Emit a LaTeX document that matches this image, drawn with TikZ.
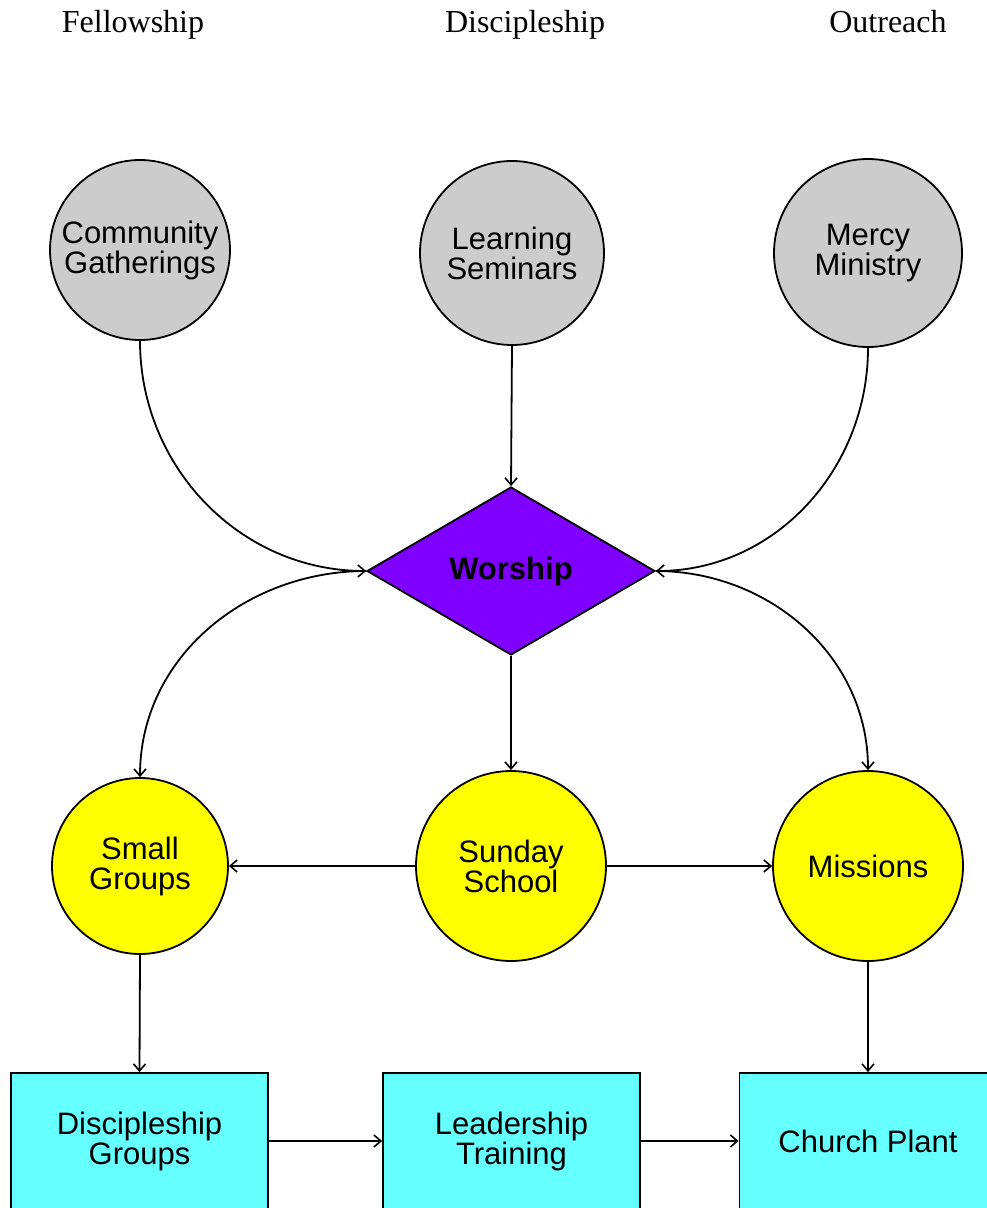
\documentclass[tikz,border=0pt]{standalone}
\usepackage{fontspec}
\setmainfont{Liberation Serif}
\setsansfont{Liberation Sans}
\usetikzlibrary{shapes.geometric,arrows.meta}
\definecolor{cgray}{HTML}{CCCCCC}
\definecolor{cpurple}{HTML}{7F00FF}
\definecolor{cyellow}{HTML}{FFFF00}
\definecolor{ccyan}{HTML}{66FFFF}
\begin{document}
\begin{tikzpicture}[x=1pt,y=-1pt,
  every node/.style={inner sep=0pt},
  lbl/.style={anchor=base,font=\fontsize{32}{34}\selectfont},
  nodetext/.style={align=center,font=\sffamily\fontsize{31}{30}\selectfont},
  graycirc/.style={nodetext,circle,draw=black,line width=1.8pt,fill=cgray},
  yelcirc/.style={nodetext,circle,draw=black,line width=1.8pt,fill=cyellow},
  cyanbox/.style={nodetext,rectangle,draw=black,line width=1.8pt,fill=ccyan,minimum width=257pt,minimum height=136pt},
  wdiam/.style={nodetext,diamond,draw=black,line width=1.8pt,fill=cpurple,minimum width=288pt,minimum height=168pt,aspect=1.714},
  conn/.style={draw=black,line width=1.8pt,-{Straight Barb[length=7pt,width=12pt,line width=1.6pt]}}
]
\useasboundingbox (0,0) rectangle (986,1208);

\node[lbl] (fel) at (133,32) {Fellowship};
\node[lbl] (dis) at (525,32) {Discipleship};
\node[lbl] (out) at (888,32) {Outreach};

\node[graycirc,minimum size=180pt] (cg) at (140,250) {Community\\Gatherings};
\node[graycirc,minimum size=184pt] (ls) at (512,253) {Learning\\Seminars};
\node[graycirc,minimum size=188pt] (mm) at (868,253) {Mercy\\Ministry};

\node[wdiam] (w) at (511,571) {\bfseries Worship};

\node[yelcirc,minimum size=176pt] (sg) at (140,866) {Small\\Groups};
\node[yelcirc,minimum size=190pt] (ss) at (511,866) {Sunday\\School};
\node[yelcirc,minimum size=190pt] (mi) at (868,866) {Missions};

\node[cyanbox] (dg) at (139.5,1141) {Discipleship\\Groups};
\node[cyanbox] (lt) at (511.5,1141) {Leadership\\Training};
\node[cyanbox] (cp) at (868,1141) {Church Plant};

\draw[conn] (cg.south) to[out=-90,in=180] (w.west);
\draw[conn] (ls.south) -- (w.north);
\draw[conn] (mm.south) to[out=-90,in=0] (w.east);
\draw[conn] (w.west) to[out=180,in=90] (sg.north);
\draw[conn] (w.south) -- (ss.north);
\draw[conn] (w.east) to[out=0,in=90] (mi.north);
\draw[conn] (ss.west) -- (sg.east);
\draw[conn] (ss.east) -- (mi.west);
\draw[conn] (sg.south) -- (dg.north);
\draw[conn] (mi.south) -- (cp.north);
\draw[conn] (dg.east) -- (lt.west);
\draw[conn] (lt.east) -- (cp.west);
\end{tikzpicture}
\end{document}
